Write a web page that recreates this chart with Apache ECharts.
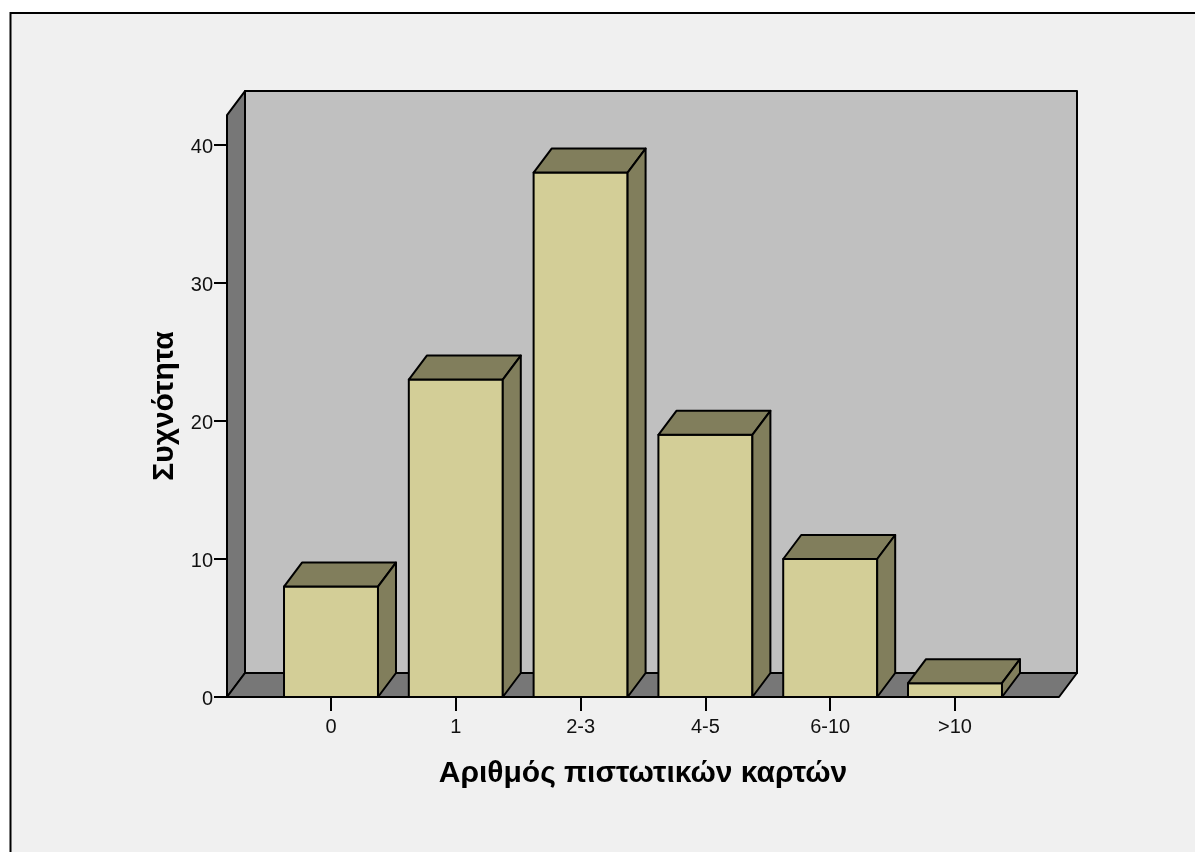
<!DOCTYPE html>
<html>
<head>
<meta charset="utf-8">
<style>html,body{margin:0;padding:0;background:#fff;overflow:hidden}#c{width:1195px;height:852px}</style>
<script src="https://cdn.jsdelivr.net/npm/echarts@6/dist/echarts.min.js"></script>
</head>
<body>
<div id="c"></div>
<script>
const categories = ['0', '1', '2-3', '4-5', '6-10', '>10'];
const frequencies = [8, 23, 38, 19, 10, 1];
const xTitle = 'Αριθμός πιστωτικών καρτών';
const yTitle = 'Συχνότητα';
const yTicks = { min: 0, max: 40, interval: 10 };
const wallTopValue = 42.17;

const depthX = 18, depthY = -24, wallPad = 41.6, barRatio = 0.753;
const FONT = '"Liberation Sans", Arial, sans-serif';
const INK = '#000';
const lineStyle = { stroke: INK, lineWidth: 2, lineJoin: 'round' };

function poly(points, fill) {
  return { type: 'polygon', shape: { points }, style: Object.assign({ fill }, lineStyle) };
}

function renderWalls(params, api) {
  const g = params.coordSys;
  const l = g.x - wallPad, r = g.x + g.width + wallPad;
  const b = api.coord([0, 0])[1], t = api.coord([0, wallTopValue])[1];
  return {
    type: 'group',
    children: [
      poly([[l + depthX, t + depthY], [r + depthX, t + depthY], [r + depthX, b + depthY], [l + depthX, b + depthY]], '#c0c0c0'),
      poly([[l, t], [l + depthX, t + depthY], [l + depthX, b + depthY], [l, b]], '#777777'),
      poly([[l, b], [l + depthX, b + depthY], [r + depthX, b + depthY], [r, b]], '#777777')
    ]
  };
}

function renderBar(params, api) {
  const idx = api.value(0), val = api.value(1);
  const top = api.coord([idx, val]), base = api.coord([idx, 0]);
  const w = api.size([1, 0])[0] * barRatio;
  const l = top[0] - w / 2, r = top[0] + w / 2, t = top[1], b = base[1];
  return {
    type: 'group',
    children: [
      poly([[l, t], [r, t], [r, b], [l, b]], '#d3ce97'),
      poly([[l, t], [l + depthX, t + depthY], [r + depthX, t + depthY], [r, t]], '#817e5c'),
      poly([[r, t], [r + depthX, t + depthY], [r + depthX, b + depthY], [r, b]], '#817e5c')
    ]
  };
}

const chart = echarts.init(document.getElementById('c'), null, { renderer: 'canvas' });
chart.setOption({
  animation: false,
  backgroundColor: 'transparent',
  graphic: { elements: [{
    type: 'rect', z: -10, silent: true,
    shape: { x: 10.5, y: 13, width: 1400, height: 1100 },
    style: { fill: '#f0f0f0', stroke: INK, lineWidth: 2 }
  }] },
  grid: { left: 268.6, right: 177.6, top: 145, bottom: 155 },
  xAxis: {
    type: 'category',
    data: categories,
    name: xTitle,
    nameLocation: 'middle',
    nameGap: 62,
    nameTextStyle: { fontFamily: FONT, fontWeight: 'bold', fontSize: 30, color: INK },
    axisLine: { show: true, lineStyle: { color: INK, width: 2 } },
    axisTick: { show: true, alignWithLabel: true, length: 14, lineStyle: { color: INK, width: 2 } },
    axisLabel: { fontFamily: FONT, fontSize: 20, color: '#111', margin: 20, interval: 0 },
    splitLine: { show: false }
  },
  yAxis: {
    type: 'value',
    min: yTicks.min, max: yTicks.max, interval: yTicks.interval,
    offset: wallPad,
    name: yTitle,
    nameLocation: 'middle',
    nameGap: 45,
    nameRotate: 90,
    nameTextStyle: { fontFamily: FONT, fontWeight: 'bold', fontSize: 30, color: INK, padding: [0, 0, 0, 30] },
    axisLine: { show: true, onZero: false, lineStyle: { color: INK, width: 2 } },
    axisTick: { show: true, length: 13, lineStyle: { color: INK, width: 2 } },
    axisLabel: { fontFamily: FONT, fontSize: 20, color: '#111', margin: 14, verticalAlign: 'top', lineHeight: 5 },
    splitLine: { show: false }
  },
  series: [
    { type: 'custom', z: 1, silent: true, clip: false, renderItem: renderWalls, data: [[0, 0]], encode: { x: 0, y: 1 } },
    { type: 'custom', z: 3, clip: false, renderItem: renderBar, data: frequencies.map((v, i) => [i, v]), encode: { x: 0, y: 1 } }
  ]
});
</script>
</body>
</html>
